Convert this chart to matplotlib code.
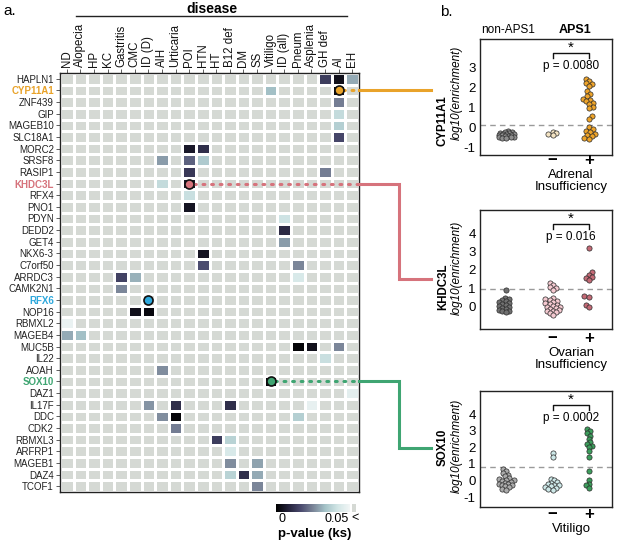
import numpy as np
import matplotlib
matplotlib.use('Agg')
import matplotlib.pyplot as plt
from matplotlib.colors import LinearSegmentedColormap
from matplotlib.lines import Line2D

plt.rcParams['font.family'] = ['Liberation Sans', 'DejaVu Sans']

W, H = 617, 543

# ---------------- data: heatmap ----------------
diseases = ['ND', 'Alopecia', 'HP', 'KC', 'Gastritis', 'CMC', 'ID (D)', 'AIH',
            'Urticaria', 'POI', 'HTN', 'HT', 'B12 def', 'DM', 'SS', 'Vitiligo',
            'ID (all)', 'Pneum', 'Asplenia', 'GH def', 'AI', 'EH']
genes = ['HAPLN1', 'CYP11A1', 'ZNF439', 'GIP', 'MAGEB10', 'SLC18A1', 'MORC2',
         'SRSF8', 'RASIP1', 'KHDC3L', 'RFX4', 'PNO1', 'PDYN', 'DEDD2', 'GET4',
         'NKX6-3', 'C7orf50', 'ARRDC3', 'CAMK2N1', 'RFX6', 'NOP16', 'RBMXL2',
         'MAGEB4', 'MUC5B', 'IL22', 'AOAH', 'SOX10', 'DAZ1', 'IL17F', 'DDC',
         'CDK2', 'RBMXL3', 'ARFRP1', 'MAGEB1', 'DAZ4', 'TCOF1']

# (gene, disease, p-value) for the cells with p < 0.05
sig_cells = [
    ('HAPLN1', 'GH def', 0.014), ('HAPLN1', 'AI', 0.004), ('HAPLN1', 'EH', 0.030),
    ('CYP11A1', 'Vitiligo', 0.033), ('CYP11A1', 'AI', 0.002),
    ('ZNF439', 'AI', 0.024), ('GIP', 'AI', 0.039), ('MAGEB10', 'AI', 0.036),
    ('SLC18A1', 'AI', 0.016),
    ('MORC2', 'POI', 0.006), ('MORC2', 'HTN', 0.011),
    ('SRSF8', 'AIH', 0.028), ('SRSF8', 'POI', 0.020), ('SRSF8', 'HTN', 0.035),
    ('RASIP1', 'POI', 0.013), ('RASIP1', 'GH def', 0.024),
    ('KHDC3L', 'AIH', 0.039), ('KHDC3L', 'POI', 0.006),
    ('RFX4', 'POI', 0.040), ('PNO1', 'POI', 0.005),
    ('PDYN', 'ID (all)', 0.041), ('DEDD2', 'ID (all)', 0.010),
    ('GET4', 'ID (all)', 0.028),
    ('NKX6-3', 'HTN', 0.005),
    ('C7orf50', 'HTN', 0.017), ('C7orf50', 'Pneum', 0.025),
    ('ARRDC3', 'Gastritis', 0.015), ('ARRDC3', 'CMC', 0.031), ('ARRDC3', 'Pneum', 0.043),
    ('CAMK2N1', 'Gastritis', 0.025),
    ('NOP16', 'CMC', 0.004), ('NOP16', 'ID (D)', 0.002),
    ('RBMXL2', 'ND', 0.048),
    ('MAGEB4', 'ND', 0.030), ('MAGEB4', 'Alopecia', 0.033),
    ('MUC5B', 'Pneum', 0.001), ('MUC5B', 'Asplenia', 0.004), ('MUC5B', 'AI', 0.025),
    ('IL22', 'GH def', 0.040), ('AOAH', 'AIH', 0.026),
    ('SOX10', 'Vitiligo', 0.002), ('DAZ1', 'EH', 0.046),
    ('IL17F', 'ID (D)', 0.027), ('IL17F', 'Urticaria', 0.011),
    ('IL17F', 'B12 def', 0.011), ('IL17F', 'Asplenia', 0.047),
    ('DDC', 'AIH', 0.026), ('DDC', 'Urticaria', 0.001), ('DDC', 'Pneum', 0.036),
    ('CDK2', 'Urticaria', 0.024),
    ('RBMXL3', 'HT', 0.014), ('RBMXL3', 'B12 def', 0.037),
    ('ARFRP1', 'B12 def', 0.043),
    ('MAGEB1', 'B12 def', 0.026), ('MAGEB1', 'SS', 0.029),
    ('DAZ4', 'B12 def', 0.037), ('DAZ4', 'DM', 0.011), ('DAZ4', 'SS', 0.030),
    ('TCOF1', 'SS', 0.025),
]

# highlighted genes: (gene, disease, colour)
highlights = [('CYP11A1', 'AI', '#e9a32a'), ('KHDC3L', 'POI', '#d6737c'),
              ('RFX6', 'ID (D)', '#2ea8dc'), ('SOX10', 'Vitiligo', '#3fa572')]

# ---------------- data: enrichment panels ----------------
cyp_non = [-0.15, -0.2, -0.22, -0.25, -0.28, -0.3, -0.3, -0.32, -0.35, -0.36,
           -0.38, -0.4, -0.42, -0.44, -0.45, -0.48, -0.5, -0.52]
cyp_neg = [-0.2, -0.28, -0.33, -0.38]
cyp_pos = [2.4, 2.3, 2.2, 2.15, 2.05, 1.8, 1.65, 1.55, 1.45, 1.4, 1.35, 1.25,
           1.2, 1.05, 1.0, 0.6, 0.45, 0.05, -0.05, -0.15, -0.2, -0.3, -0.35,
           -0.4, -0.5, -0.55]

khd_non = [0.92, 0.5, 0.45, 0.35, 0.3, 0.25, 0.2, 0.15, 0.1, 0.05, 0.0, -0.05,
           -0.1, -0.15, -0.2, -0.25, -0.3]
khd_neg = [1.3, 1.2, 1.05, 1.0, 0.9, 0.5, 0.4, 0.35, 0.3, 0.25, 0.2, 0.15, 0.1,
           0.05, 0.0, 0.0, -0.05, -0.1, -0.15, -0.2, -0.25, -0.3, -0.35, -0.45]
khd_pos = [3.2, 1.9, 1.75, 1.6, 1.55, 1.45, 0.6, 0.55, 0.1, 0.0]

sox_non = [0.7, 0.6, 0.45, 0.35, 0.25, 0.15, 0.1, 0.05, 0.0, -0.05, -0.1, -0.15,
           -0.2, -0.2, -0.25, -0.3, -0.35, -0.4, -0.5, -0.55]
sox_neg = [1.65, 1.4, 0.1, 0.0, -0.1, -0.15, -0.2, -0.25, -0.3, -0.35, -0.4,
           -0.45, -0.5, -0.55]
sox_pos = [3.1, 3.0, 2.85, 2.7, 2.5, 2.3, 2.2, 2.1, 2.0, 1.75, 1.4, 0.6, 0.05,
           -0.2, -0.3, -0.45]

thresholds = [0.15, 0.95, 0.8]
p_texts = ['p = 0.0080', 'p = 0.016', 'p = 0.0002']
panel_genes = ['CYP11A1', 'KHDC3L', 'SOX10']
panel_disease = ['Adrenal\nInsufficiency', 'Ovarian\nInsufficiency', 'Vitiligo']


def px_rect(l, t, r, b):
    return [l / W, 1 - b / H, (r - l) / W, (b - t) / H]


def fx(x):
    return x / W


def fy(y):
    return 1 - y / H


fig = plt.figure(figsize=(W / 100, H / 100), dpi=100)

# ---------------- heatmap ----------------
cmap = LinearSegmentedColormap.from_list(
    'pks', ['#000000', '#24223a', '#4a4a6e', '#7a8598', '#a5c3c8', '#d2e6e6', '#f2f6f6'])
cmap.set_bad('#d5d9d4')

pv = np.full((len(genes), len(diseases)), np.nan)
for g, d, p in sig_cells:
    pv[genes.index(g), diseases.index(d)] = p

ax = fig.add_axes(px_rect(60, 73, 359, 492))
ax.pcolormesh(np.arange(len(diseases) + 1) - 0.5, np.arange(len(genes) + 1) - 0.5,
              np.ma.masked_invalid(pv), cmap=cmap, vmin=0, vmax=0.05,
              edgecolors='white', linewidth=0.8)
ax.set_xlim(-0.5, len(diseases) - 0.5)
ax.set_ylim(len(genes) - 0.5, -0.5)
ax.set_xticks(range(len(diseases)))
ax.set_xticklabels(diseases, rotation=90, fontsize=8.3, color='#111')
ax.set_yticks(range(len(genes)))
ax.set_yticklabels(genes, fontsize=7, color='#222')
ax.tick_params(axis='x', top=True, labeltop=True, bottom=False, labelbottom=False,
               length=3, width=0.6, pad=1.5, color='#444')
ax.tick_params(axis='y', length=3, width=0.6, pad=1.5, color='#444')
for s in ax.spines.values():
    s.set_linewidth(1.0)
    s.set_color('#222')

hl_col = {g: c for g, d, c in highlights}
for lab in ax.get_yticklabels():
    if lab.get_text() in hl_col:
        lab.set_color(hl_col[lab.get_text()])
        lab.set_fontweight('bold')

for g, d, c in highlights:
    ax.plot(diseases.index(d), genes.index(g), 'o', ms=6.5, mfc=c, mec='#111',
            mew=1.2, zorder=5)

# header
fig.text(fx(212), fy(9), 'disease', ha='center', va='center', fontsize=10,
         fontweight='bold')
fig.add_artist(Line2D([fx(76), fx(347)], [fy(16), fy(16)], color='#222', lw=1))
fig.text(fx(3), fy(11), 'a.', ha='left', va='center', fontsize=11)

# colour bar
cax = fig.add_axes(px_rect(276, 504, 350, 512))
cax.imshow(np.linspace(0, 0.05, 256)[None, :], aspect='auto', cmap=cmap,
           extent=[0, 0.05, 0, 1])
cax.set_axis_off()
gax = fig.add_axes(px_rect(352, 504, 356, 512))
gax.set_facecolor('#d5d9d4')
gax.set_xticks([])
gax.set_yticks([])
for s in gax.spines.values():
    s.set_visible(False)
fig.text(fx(282), fy(519), '0', ha='center', va='center', fontsize=9)
fig.text(fx(337), fy(519), '0.05', ha='center', va='center', fontsize=9)
fig.text(fx(355), fy(518), '<', ha='center', va='center', fontsize=9)
fig.text(fx(315), fy(534), 'p-value (ks)', ha='center', va='center', fontsize=9.5,
         fontweight='bold')

# ---------------- enrichment panels ----------------
fig.text(fx(446), fy(12), 'b.', ha='center', va='center', fontsize=11)
fig.text(fx(508), fy(30), 'non-APS1', ha='center', va='center', fontsize=8.5)
fig.text(fx(575), fy(30), 'APS1', ha='center', va='center', fontsize=9,
         fontweight='bold')

xpos = [0.8, 2.2, 3.3]
xlim = (0, 4)


def swarm(ys, x0, wpx, hpx, ylim, dmin=3.4, step=1.5, maxoff=7.5):
    # tight beeswarm-like placement (pixel units), points may overlap a little
    sx = wpx / (xlim[1] - xlim[0])
    sy = hpx / (ylim[1] - ylim[0])
    ys = np.asarray(ys, float)
    xs = np.zeros(len(ys))
    placed = []
    for n, i in enumerate(np.argsort(ys)):
        y = ys[i] * sy
        best, best_d = 0.0, -1
        for k in range(40):
            off = ((k + 1) // 2) * (1 if (k + n) % 2 else -1) * step
            if abs(off) > maxoff:
                continue
            dd = min([np.hypot(off - a, y - b) for a, b in placed] or [99])
            if dd >= dmin:
                best = off
                break
            if dd > best_d:
                best, best_d = off, dd
        placed.append((best, y))
        xs[i] = x0 + best / sx
    return xs


panels = [
    dict(rect=(480, 39, 612, 155), ylim=(-1.35, 4.4), ticks=[-1, 0, 1, 2, 3],
         data=[cyp_non, cyp_neg, cyp_pos],
         colors=['#8e8e8e', '#f3e3c3', '#eea42a'],
         gene_y=121, lab_y=93, minus_y=161, dis_y=181),
    dict(rect=(480, 210, 612, 329), ylim=(-1.2, 5.25), ticks=[0, 1, 2, 3, 4],
         data=[khd_non, khd_neg, khd_pos],
         colors=['#707070', '#f4c9d0', '#c46a76'],
         gene_y=287, lab_y=268, minus_y=338, dis_y=359),
    dict(rect=(480, 391, 612, 507), ylim=(-1.6, 5.4), ticks=[-1, 0, 1, 2, 3, 4],
         data=[sox_non, sox_neg, sox_pos],
         colors=['#ababab', '#cde8e8', '#3c9e5c'],
         gene_y=447, lab_y=446, minus_y=515, dis_y=529),
]

for i, P in enumerate(panels):
    l, t, r, b = P['rect']
    pax = fig.add_axes(px_rect(l, t, r, b))
    pax.set_xlim(*xlim)
    pax.set_ylim(*P['ylim'])
    for j, ys in enumerate(P['data']):
        xs = swarm(ys, xpos[j], r - l, b - t, P['ylim'])
        pax.scatter(xs, ys, s=14, c=P['colors'][j], edgecolors='#2a2a2a',
                    linewidths=0.5, zorder=3)
    pax.axhline(thresholds[i], color='#9a9a9a', lw=1, ls=(0, (4, 3)), zorder=1)
    pax.set_xticks([])
    pax.set_yticks(P['ticks'])
    pax.set_yticklabels([str(v) for v in P['ticks']], fontsize=9.5)
    pax.tick_params(axis='y', length=0, pad=3)
    for s in pax.spines.values():
        s.set_linewidth(1.0)
        s.set_color('#222')
    tr = pax.get_xaxis_transform()
    pax.plot([xpos[1], xpos[1], xpos[2], xpos[2]], [0.84, 0.88, 0.88, 0.84],
             color='#111', lw=1, transform=tr, clip_on=False)
    pax.text((xpos[1] + xpos[2]) / 2, 0.925, '*', transform=tr, ha='center',
             va='center', fontsize=11)
    pax.text((xpos[1] + xpos[2]) / 2, 0.77, p_texts[i], transform=tr,
             ha='center', va='center', fontsize=8.5)

    fig.text(fx(443), fy(P['gene_y']), panel_genes[i], rotation=90, ha='center',
             va='center', fontsize=8.3, fontweight='bold')
    fig.text(fx(457), fy(P['lab_y']), 'log10(enrichment)', rotation=90,
             ha='center', va='center', fontsize=8.5, style='italic')
    px_neg = l + (r - l) * xpos[1] / xlim[1]
    px_pos = l + (r - l) * xpos[2] / xlim[1]
    fig.text(fx(px_neg), fy(P['minus_y']), '\u2212', ha='center', va='center',
             fontsize=12, fontweight='bold')
    fig.text(fx(px_pos), fy(P['minus_y']), '+', ha='center', va='center',
             fontsize=12, fontweight='bold')
    fig.text(fx(571), fy(P['dis_y']), panel_disease[i], ha='center', va='center',
             fontsize=9.5, linespacing=0.95)

# ---------------- connectors ----------------
right_px = 359
routes = [(None, 90), (399, 279), (399, 448)]
for (g, d, c), route in zip([highlights[0], highlights[1], highlights[3]], routes):
    gi, di = genes.index(g), diseases.index(d)
    ax.plot([di + 0.35, len(diseases) - 0.5], [gi, gi], color=c, lw=2.2,
            ls=(0, (0.6, 2.2)), dash_capstyle='round', zorder=4, clip_on=False)
    y0 = H - ax.transData.transform((0, gi))[1]
    xm, y1 = route
    if xm is None:
        xs_, ys_ = [right_px, 431], [y0, y0]
    else:
        xs_, ys_ = [right_px, xm, xm, 431], [y0, y0, y1, y1]
    fig.add_artist(Line2D([fx(v) for v in xs_], [fy(v) for v in ys_], color=c,
                          lw=2.2, solid_joinstyle='miter'))

fig.savefig('out.png', dpi=100)
